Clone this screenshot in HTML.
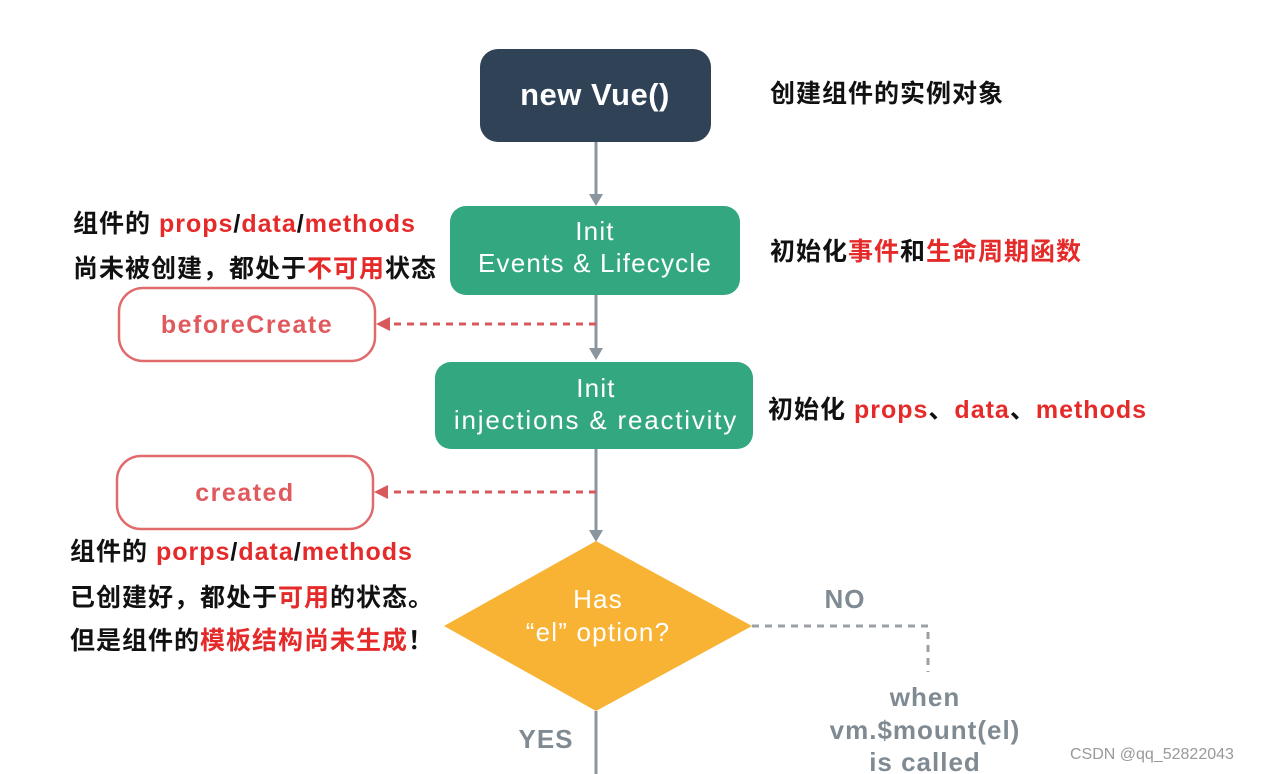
<!DOCTYPE html>
<html><head><meta charset="utf-8"><style>
body{margin:0;background:#fff;}
svg{display:block}
.cn{font-family:"Liberation Sans","Noto Sans CJK SC",sans-serif;font-weight:bold;font-size:25px;letter-spacing:1px;fill:#111}
.r{fill:#e52a2a}
.w{font-family:"Liberation Sans","DejaVu Sans",sans-serif;fill:#fff;font-size:26px;letter-spacing:1.2px}
.g{font-family:"Liberation Sans",sans-serif;font-weight:bold;fill:#7f8a93;font-size:26px;letter-spacing:1px}
</style></head><body>
<svg width="1288" height="774" viewBox="0 0 1288 774">
<g stroke="#8a959e" stroke-width="3" fill="none">
<line x1="596" y1="142" x2="596" y2="196"/>
<line x1="596" y1="295" x2="596" y2="350"/>
<line x1="596" y1="449" x2="596" y2="532"/>
<line x1="596" y1="711" x2="596" y2="774"/>
</g>
<g fill="#8a959e">
<path d="M589,194 L603,194 L596,206Z"/>
<path d="M589,348 L603,348 L596,360Z"/>
<path d="M589,530 L603,530 L596,542Z"/>
</g>
<g stroke="#d9585c" stroke-width="3" stroke-dasharray="7,6">
<line x1="596" y1="324" x2="388" y2="324"/>
<line x1="596" y1="492" x2="388" y2="492"/>
</g>
<path d="M376,324 L390,317 L390,331Z" fill="#d9585c"/>
<path d="M374,492 L388,485 L388,499Z" fill="#d9585c"/>
<rect x="480" y="49" width="231" height="93" rx="18" fill="#2f4256"/>
<text x="595" y="105" text-anchor="middle" style="font-family:'Liberation Sans',sans-serif;font-weight:bold;font-size:31px;letter-spacing:0.5px;fill:#fff">new Vue()</text>
<rect x="450" y="206" width="290" height="89" rx="16" fill="#33a77f"/>
<text class="w" x="595" y="240" text-anchor="middle">Init</text>
<text class="w" x="595" y="272" text-anchor="middle">Events &amp; Lifecycle</text>
<rect x="435" y="362" width="318" height="87" rx="16" fill="#33a77f"/>
<text class="w" x="596" y="397" text-anchor="middle">Init</text>
<text class="w" x="596" y="429" text-anchor="middle" style="letter-spacing:1.8px">injections &amp; reactivity</text>
<rect x="119" y="288" width="256" height="73" rx="24" fill="#fff" stroke="#e06a6c" stroke-width="2.5"/>
<text x="247" y="333" text-anchor="middle" style="font-family:'Liberation Sans',sans-serif;font-weight:bold;font-size:25px;letter-spacing:1.5px;fill:#e05a5d">beforeCreate</text>
<rect x="117" y="456" width="256" height="73" rx="24" fill="#fff" stroke="#e06a6c" stroke-width="2.5"/>
<text x="245" y="501" text-anchor="middle" style="font-family:'Liberation Sans',sans-serif;font-weight:bold;font-size:25px;letter-spacing:1.5px;fill:#e05a5d">created</text>
<path d="M596,541 L752,626 L596,711 L444,626Z" fill="#f8b334"/>
<text class="w" x="598" y="608" text-anchor="middle">Has</text>
<text class="w" x="598" y="641" text-anchor="middle">“el” option?</text>
<polyline points="752,626 928,626 928,672" fill="none" stroke="#9aa0a5" stroke-width="3" stroke-dasharray="7,6"/>
<text class="g" x="845" y="608" text-anchor="middle">NO</text>
<text class="g" x="925" y="706" text-anchor="middle">when</text>
<text class="g" x="925" y="739" text-anchor="middle">vm.$mount(el)</text>
<text class="g" x="925" y="771" text-anchor="middle">is called</text>
<text class="g" x="546" y="748" text-anchor="middle">YES</text>
<text class="cn" x="770" y="102">创建组件的实例对象</text>
<text class="cn" x="770" y="260">初始化<tspan class="r">事件</tspan>和<tspan class="r">生命周期函数</tspan></text>
<text class="cn" x="768" y="418">初始化 <tspan class="r">props</tspan>、<tspan class="r">data</tspan>、<tspan class="r">methods</tspan></text>
<text class="cn" x="73" y="232">组件的 <tspan class="r">props</tspan>/<tspan class="r">data</tspan>/<tspan class="r">methods</tspan></text>
<text class="cn" x="73" y="277">尚未被创建，都处于<tspan class="r">不可用</tspan>状态</text>
<text class="cn" x="70" y="560">组件的 <tspan class="r">porps</tspan>/<tspan class="r">data</tspan>/<tspan class="r">methods</tspan></text>
<text class="cn" x="70" y="606">已创建好，都处于<tspan class="r">可用</tspan>的状态。</text>
<text class="cn" x="70" y="649">但是组件的<tspan class="r">模板结构尚未生成</tspan>！</text>
<text x="1070" y="759" style="font-family:'Liberation Sans',sans-serif;font-size:16px;fill:#999">CSDN @qq_52822043</text>
</svg>
</body></html>
